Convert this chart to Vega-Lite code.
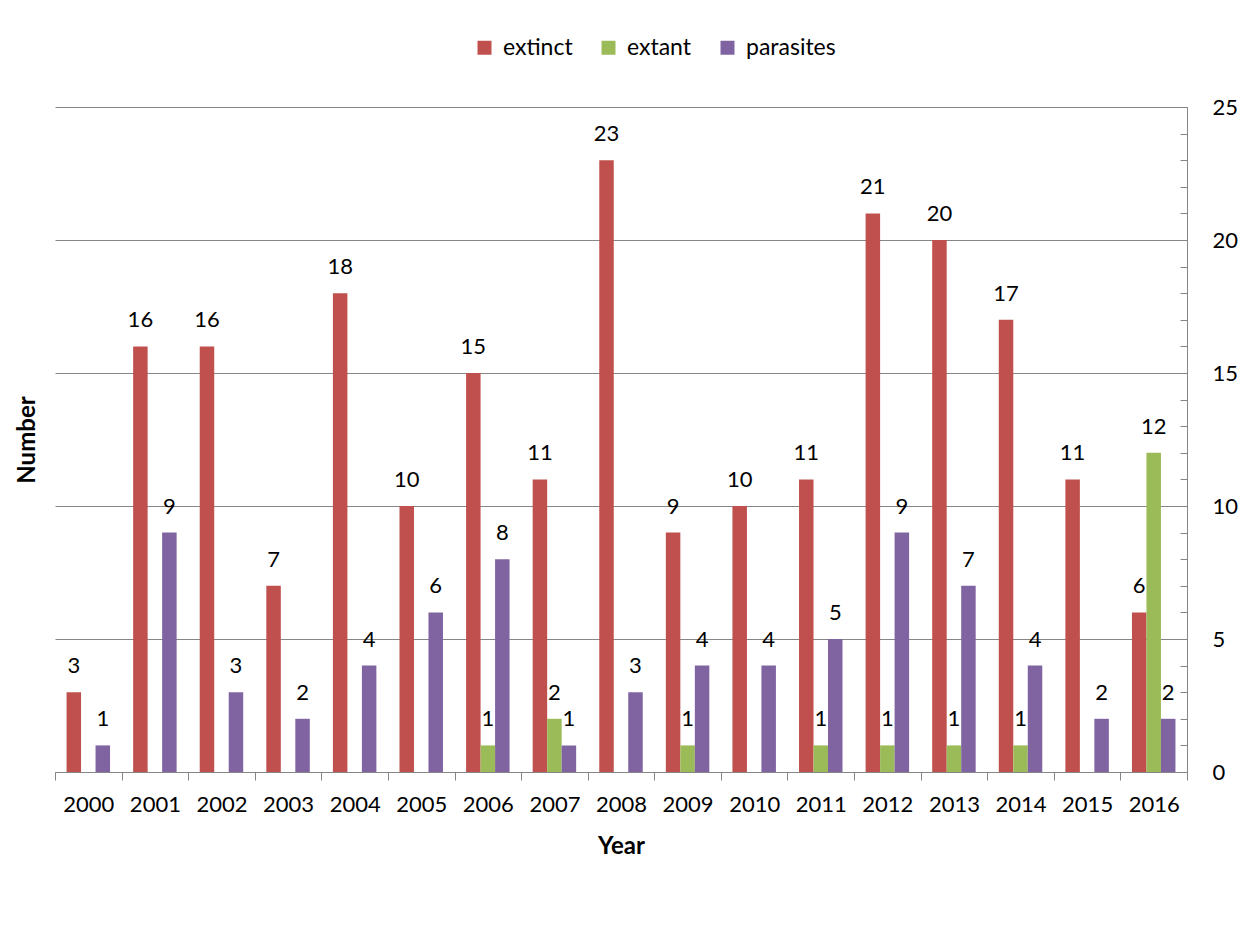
{
  "$schema": "https://vega.github.io/schema/vega-lite/v6.json",
  "autosize": "none",
  "width": 1132,
  "height": 665,
  "padding": {"left": 55, "top": 107, "right": 54, "bottom": 161},
  "background": "white",
  "config": {
    "view": {"stroke": null},
    "font": "Lato",
    "axis": {"labelFont": "Lato", "titleFont": "Lato", "labelColor": "black", "titleColor": "black"}
  },
  "data": {
    "values": [
      {"year": "2000", "series": "extinct", "value": 3},
      {"year": "2000", "series": "extant", "value": 0},
      {"year": "2000", "series": "parasites", "value": 1},
      {"year": "2001", "series": "extinct", "value": 16},
      {"year": "2001", "series": "extant", "value": 0},
      {"year": "2001", "series": "parasites", "value": 9},
      {"year": "2002", "series": "extinct", "value": 16},
      {"year": "2002", "series": "extant", "value": 0},
      {"year": "2002", "series": "parasites", "value": 3},
      {"year": "2003", "series": "extinct", "value": 7},
      {"year": "2003", "series": "extant", "value": 0},
      {"year": "2003", "series": "parasites", "value": 2},
      {"year": "2004", "series": "extinct", "value": 18},
      {"year": "2004", "series": "extant", "value": 0},
      {"year": "2004", "series": "parasites", "value": 4},
      {"year": "2005", "series": "extinct", "value": 10},
      {"year": "2005", "series": "extant", "value": 0},
      {"year": "2005", "series": "parasites", "value": 6},
      {"year": "2006", "series": "extinct", "value": 15},
      {"year": "2006", "series": "extant", "value": 1},
      {"year": "2006", "series": "parasites", "value": 8},
      {"year": "2007", "series": "extinct", "value": 11},
      {"year": "2007", "series": "extant", "value": 2},
      {"year": "2007", "series": "parasites", "value": 1},
      {"year": "2008", "series": "extinct", "value": 23},
      {"year": "2008", "series": "extant", "value": 0},
      {"year": "2008", "series": "parasites", "value": 3},
      {"year": "2009", "series": "extinct", "value": 9},
      {"year": "2009", "series": "extant", "value": 1},
      {"year": "2009", "series": "parasites", "value": 4},
      {"year": "2010", "series": "extinct", "value": 10},
      {"year": "2010", "series": "extant", "value": 0},
      {"year": "2010", "series": "parasites", "value": 4},
      {"year": "2011", "series": "extinct", "value": 11},
      {"year": "2011", "series": "extant", "value": 1},
      {"year": "2011", "series": "parasites", "value": 5},
      {"year": "2012", "series": "extinct", "value": 21},
      {"year": "2012", "series": "extant", "value": 1},
      {"year": "2012", "series": "parasites", "value": 9},
      {"year": "2013", "series": "extinct", "value": 20},
      {"year": "2013", "series": "extant", "value": 1},
      {"year": "2013", "series": "parasites", "value": 7},
      {"year": "2014", "series": "extinct", "value": 17},
      {"year": "2014", "series": "extant", "value": 1},
      {"year": "2014", "series": "parasites", "value": 4},
      {"year": "2015", "series": "extinct", "value": 11},
      {"year": "2015", "series": "extant", "value": 0},
      {"year": "2015", "series": "parasites", "value": 2},
      {"year": "2016", "series": "extinct", "value": 6},
      {"year": "2016", "series": "extant", "value": 12},
      {"year": "2016", "series": "parasites", "value": 2}
    ]
  },
  "encoding": {
    "x": {
      "field": "year",
      "type": "nominal",
      "scale": {"paddingInner": 0, "paddingOuter": 0},
      "axis": {
        "title": "Year",
        "titleFontSize": 24,
        "titleFontWeight": "bold",
        "titlePadding": 19,
        "labelAngle": 0,
        "labelFontSize": 22,
        "labelPadding": 14,
        "tickBand": "extent",
        "tickSize": 8,
        "tickColor": "#868686",
        "domainColor": "#868686",
        "grid": false
      }
    },
    "xOffset": {
      "field": "series",
      "type": "nominal",
      "scale": {"domain": ["extinct", "extant", "parasites"], "paddingInner": 0, "paddingOuter": 0.797}
    }
  },
  "layer": [
    {
      "mark": {"type": "bar"},
      "encoding": {
        "y": {
          "field": "value",
          "type": "quantitative",
          "scale": {"domain": [0, 25], "nice": false},
          "axis": {
            "orient": "right",
            "title": null,
            "values": [0, 1, 2, 3, 4, 5, 6, 7, 8, 9, 10, 11, 12, 13, 14, 15, 16, 17, 18, 19, 20, 21, 22, 23, 24, 25],
            "labelExpr": "datum.value % 5 === 0 ? datum.label : ''",
            "labelFontSize": 22,
            "labelPadding": 32,
            "tickSize": -7,
            "tickColor": "#868686",
            "domainColor": "#868686",
            "grid": true,
            "gridColor": "#868686",
            "gridOpacity": {"condition": {"test": "datum.value % 5 === 0", "value": 1}, "value": 0}
          }
        },
        "color": {
          "field": "series",
          "type": "nominal",
          "scale": {"domain": ["extinct", "extant", "parasites"], "range": ["#C0504D", "#9BBB59", "#8064A2"]},
          "legend": {
            "orient": "none",
            "legendX": 418,
            "legendY": -71,
            "direction": "horizontal",
            "title": null,
            "symbolType": "square",
            "symbolSize": 196,
            "symbolStrokeWidth": 0,
            "labelFontSize": 23,
            "labelOffset": 7,
            "columnPadding": 24
          }
        }
      }
    },
    {
      "transform": [{"filter": "datum.value > 0"}],
      "mark": {"type": "text", "baseline": "alphabetic", "dy": -19, "fontSize": 22, "color": "black"},
      "encoding": {
        "y": {
          "field": "value",
          "type": "quantitative",
          "axis": {
            "orient": "left",
            "title": "Number",
            "titleFontSize": 24,
            "titleFontWeight": "bold",
            "titlePadding": 16,
            "labels": false,
            "ticks": false,
            "domain": false,
            "grid": false
          }
        },
        "text": {"field": "value", "type": "quantitative"}
      }
    }
  ],
  "resolve": {"axis": {"y": "independent"}}
}
